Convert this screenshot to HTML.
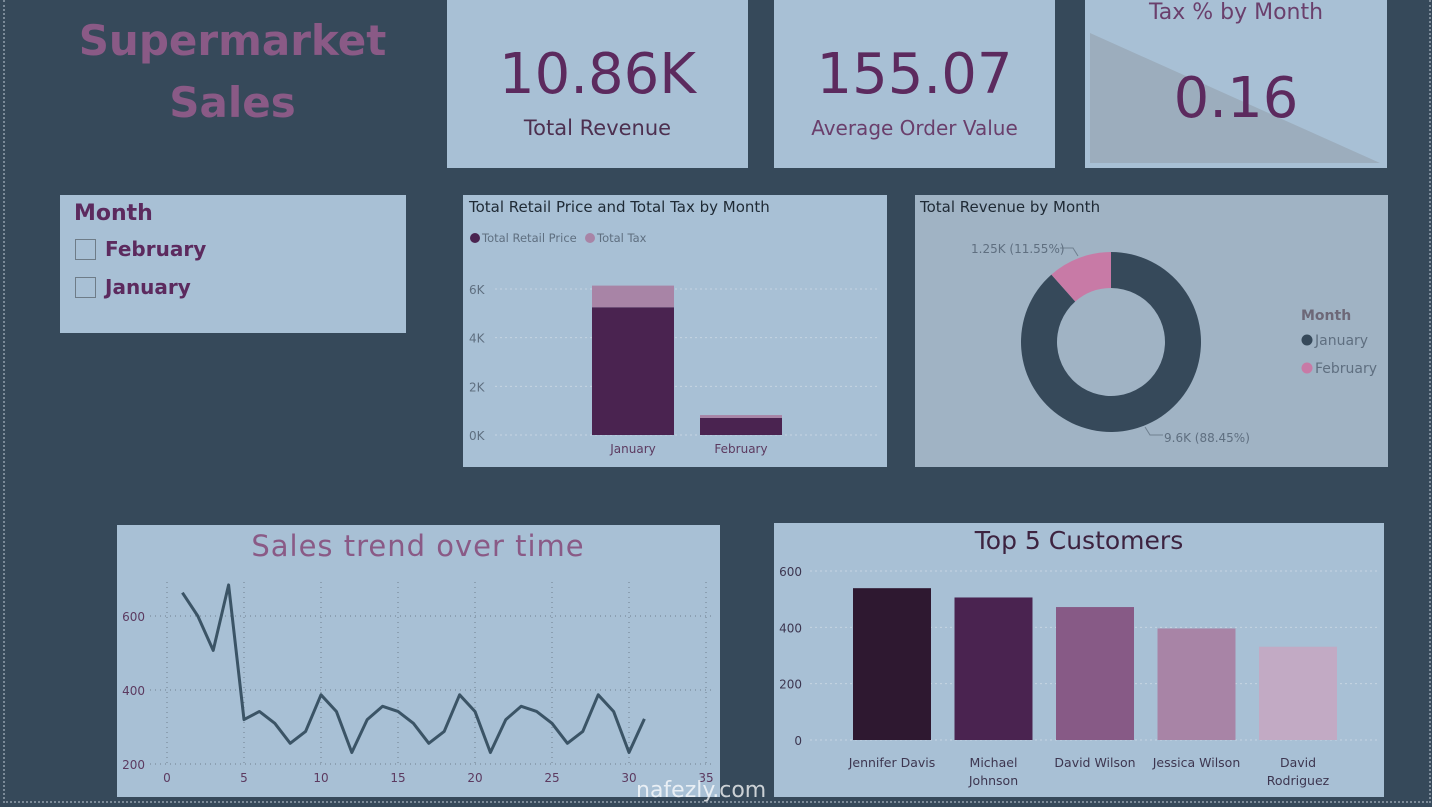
<!DOCTYPE html>
<html><head><meta charset="utf-8">
<style>
body{margin:0;width:1432px;height:807px;background:#36495a;overflow:hidden;font-family:"DejaVu Sans","Liberation Sans",sans-serif;position:relative}
.p{position:absolute;background:#a8c0d5}
.t{position:absolute;white-space:nowrap}
svg{position:absolute;left:0;top:0}
</style></head><body>
<div style="position:absolute;left:3px;top:0;width:1424px;height:801px;border:2px dotted #7b8a98;border-top:none"></div>
<div class="t" style="left:60px;top:10px;width:345px;text-align:center;font-weight:bold;font-size:42px;line-height:62px;color:#8a5a86">Supermarket<br>Sales</div>

<div class="p" style="left:447px;top:0;width:301px;height:168px">
 <div class="t" style="left:0;width:301px;top:42px;text-align:center;font-size:56px;color:#5c2a5e">10.86K</div>
 <div class="t" style="left:0;width:301px;top:116px;text-align:center;font-size:21px;color:#4d3050">Total Revenue</div>
</div>
<div class="p" style="left:774px;top:0;width:281px;height:168px">
 <div class="t" style="left:0;width:281px;top:42px;text-align:center;font-size:56px;color:#5c2a5e">155.07</div>
 <div class="t" style="left:0;width:281px;top:116px;text-align:center;font-size:20px;color:#6a3f6c">Average Order Value</div>
</div>
<div class="p" style="left:1085px;top:0;width:302px;height:168px">
 <svg width="302" height="168"><polygon points="5,33 5,163 295,163" fill="#9cadbd"/></svg>
 <div class="t" style="left:0;width:302px;top:0;text-align:center;font-size:22px;color:#6a3f6c">Tax % by Month</div>
 <div class="t" style="left:0;width:302px;top:66px;text-align:center;font-size:56px;color:#5c2a5e">0.16</div>
</div>

<div class="p" style="left:60px;top:195px;width:346px;height:138px">
 <div class="t" style="left:14px;top:6px;font-size:22px;font-weight:bold;color:#5c2a5e">Month</div>
 <div style="position:absolute;left:15px;top:44px;width:19px;height:19px;border:1.5px solid #6e7c88"></div>
 <div class="t" style="left:45px;top:42px;font-size:20px;font-weight:bold;color:#5c2a5e">February</div>
 <div style="position:absolute;left:15px;top:82px;width:19px;height:19px;border:1.5px solid #6e7c88"></div>
 <div class="t" style="left:45px;top:80px;font-size:20px;font-weight:bold;color:#5c2a5e">January</div>
</div>

<div class="p" style="left:463px;top:195px;width:424px;height:272px"></div>
<div class="p" style="left:915px;top:195px;width:473px;height:272px;background:#a0b3c4"></div>
<div class="p" style="left:117px;top:525px;width:603px;height:272px"></div>
<div class="p" style="left:774px;top:523px;width:610px;height:274px"></div>

<svg id="s" width="1432" height="807" font-family="DejaVu Sans, Liberation Sans, sans-serif"></svg>
<div class="t" style="left:636px;top:778px;font-size:22px;color:rgba(255,255,255,.75)">nafezly.com</div>

<script>
// Retail/tax chart data
const months=["January","February"];
const retail=[5250,700];
const tax=[890,120];
const rtTicks=[0,2000,4000,6000];
const rtTickLabels=["0K","2K","4K","6K"];
// Donut
const donutLabels=["January","February"];
const donutValues=[9.6,1.25];
const donutText=["9.6K (88.45%)","1.25K (11.55%)"];
// Trend
const days=[1,2,3,4,5,6,7,8,9,10,11,12,13,14,15,16,17,18,19,20,21,22,23,24,25,26,27,28,29,30,31];
const sales=[663,600,507,684,320,342,310,256,288,387,342,231,320,356,342,310,256,288,387,342,231,320,356,342,310,256,288,387,342,231,322];
const xTicks=[0,5,10,15,20,25,30,35];
const yTicks=[200,400,600];
// Top customers
const customers=[["Jennifer Davis"],["Michael","Johnson"],["David Wilson"],["Jessica Wilson"],["David","Rodriguez"]];
const custValues=[539,506,472,396,331];
const custTicks=[0,200,400,600];

const S=document.getElementById('s');
const NS='http://www.w3.org/2000/svg';
function mk(tag,at,name,parent){const e=document.createElementNS(NS,tag);for(const k in at)e.setAttribute(k,at[k]);


(parent||S).appendChild(e);return e;}
function txt(x,y,s,at,name){const e=mk('text',Object.assign({x:x,y:y},at),name);e.textContent=s;return e;}

// ---- Retail & tax stacked bars
txt(469,212,"Total Retail Price and Total Tax by Month",{'font-size':15,fill:'#1f2a35'},'retail-chart-title');
mk('circle',{cx:475,cy:238,r:5,fill:'#4a2350'},'legend-retail-dot');
txt(482,242,"Total Retail Price",{'font-size':11.5,fill:'#5f6f80'},'legend-retail');
mk('circle',{cx:590,cy:238,r:5,fill:'#a884a6'},'legend-tax-dot');
txt(597,242,"Total Tax",{'font-size':11.5,fill:'#5f6f80'},'legend-tax');
const ry=v=>435-v*(146/6000);
rtTicks.forEach((t,i)=>{mk('line',{x1:495,x2:880,y1:ry(t),y2:ry(t),stroke:'#c6d5e2','stroke-dasharray':'2 3'},'rt-gridline');
txt(469,ry(t)+5,rtTickLabels[i],{'font-size':12,fill:'#5f6f80'},'rt-y-tick');});
const bx=i=>592+i*108;
months.forEach((m,i)=>{
 mk('rect',{x:bx(i),y:ry(retail[i]),width:82,height:ry(0)-ry(retail[i]),fill:'#4a2350'},'bar-retail-'+m.toLowerCase());
 mk('rect',{x:bx(i),y:ry(retail[i]+tax[i]),width:82,height:ry(retail[i])-ry(retail[i]+tax[i]),fill:'#a884a6'},'bar-tax-'+m.toLowerCase());
 txt(bx(i)+41,453,m,{'font-size':12,fill:'#5c3a60','text-anchor':'middle'},'rt-x-label');
});

// ---- Donut
txt(920,212,"Total Revenue by Month",{'font-size':15,fill:'#1f2a35'},'donut-title');
const cx=1111,cy=342,R=90,r=54,cols=['#36495a','#c87aa6'];
const tot=donutValues.reduce((a,b)=>a+b,0);let a0=0;
donutValues.forEach((v,i)=>{const a1=a0+v/tot*2*Math.PI;const p=(a,rr)=>[cx+rr*Math.sin(a),cy-rr*Math.cos(a)];
 const lg=(a1-a0)>Math.PI?1:0;const [x1,y1]=p(a0,R),[x2,y2]=p(a1,R),[x3,y3]=p(a1,r),[x4,y4]=p(a0,r);
 mk('path',{d:`M${x1},${y1}A${R},${R} 0 ${lg} 1 ${x2},${y2}L${x3},${y3}A${r},${r} 0 ${lg} 0 ${x4},${y4}Z`,fill:cols[i]},'donut-slice-'+donutLabels[i].toLowerCase());
 a0=a1;});
mk('polyline',{points:'1060,248 1073,248 1078,256',fill:'none',stroke:'#6f8090'},'donut-leader-feb');
txt(971,253,donutText[1],{'font-size':12,fill:'#5f6f80'},'donut-label-feb');
mk('polyline',{points:'1145,427 1150,435 1163,435',fill:'none',stroke:'#6f8090'},'donut-leader-jan');
txt(1164,442,donutText[0],{'font-size':12,fill:'#5f6f80'},'donut-label-jan');
txt(1301,320,"Month",{'font-size':14,'font-weight':'bold',fill:'#6d6878'},'donut-legend-title');
donutLabels.forEach((l,i)=>{mk('circle',{cx:1307,cy:340+i*28,r:5.5,fill:cols[i]},'donut-legend-dot');
 txt(1315,345+i*28,l,{'font-size':14,fill:'#5f6f80'},'donut-legend-'+l.toLowerCase());});

// ---- Sales trend
txt(418,556,"Sales trend over time",{'font-size':29,fill:'#8a5a86','text-anchor':'middle','letter-spacing':1},'trend-title');
const lx=d=>167+d*(539/35), ly=v=>764-(v-200)*(148/400);
xTicks.forEach(t=>{mk('line',{x1:lx(t),x2:lx(t),y1:582,y2:764,stroke:'#6f8090','stroke-dasharray':'1 4'},'trend-x-grid');
 txt(lx(t),782,t,{'font-size':12,fill:'#5c3a60','text-anchor':'middle'},'trend-x-tick');});
yTicks.forEach(t=>{mk('line',{x1:150,x2:712,y1:ly(t),y2:ly(t),stroke:'#6f8090','stroke-dasharray':'1 4'},'trend-y-grid');
 txt(145,ly(t)+5,t,{'font-size':12,fill:'#5c3a60','text-anchor':'end'},'trend-y-tick');});
mk('polyline',{points:days.map((d,i)=>lx(d)+','+ly(sales[i])).join(' '),fill:'none',stroke:'#3b5466','stroke-width':3,'stroke-linejoin':'round'},'sales-line');

// ---- Top customers
txt(1079,549,"Top 5 Customers",{'font-size':25,fill:'#3d2340','text-anchor':'middle'},'customers-title');
const cyS=v=>740-v*(169/600);
custTicks.forEach(t=>{mk('line',{x1:810,x2:1378,y1:cyS(t),y2:cyS(t),stroke:'#c6d5e2','stroke-dasharray':'2 3'},'cust-gridline');
 txt(802,cyS(t)+5,t,{'font-size':12,fill:'#3d3650','text-anchor':'end'},'cust-y-tick');});
const ccol=['#2e1830','#4a2350','#875a86','#a884a6','#c2aac4'];
customers.forEach((c,i)=>{const x=853+i*101.5;
 mk('rect',{x:x,y:cyS(custValues[i]),width:78,height:cyS(0)-cyS(custValues[i]),fill:ccol[i]},'bar-customer-'+(i+1));
 c.forEach((ln,j)=>txt(x+39,767+j*18,ln,{'font-size':12.5,fill:'#3d3650','text-anchor':'middle'},'cust-x-label'));});
</script>
</body></html>
